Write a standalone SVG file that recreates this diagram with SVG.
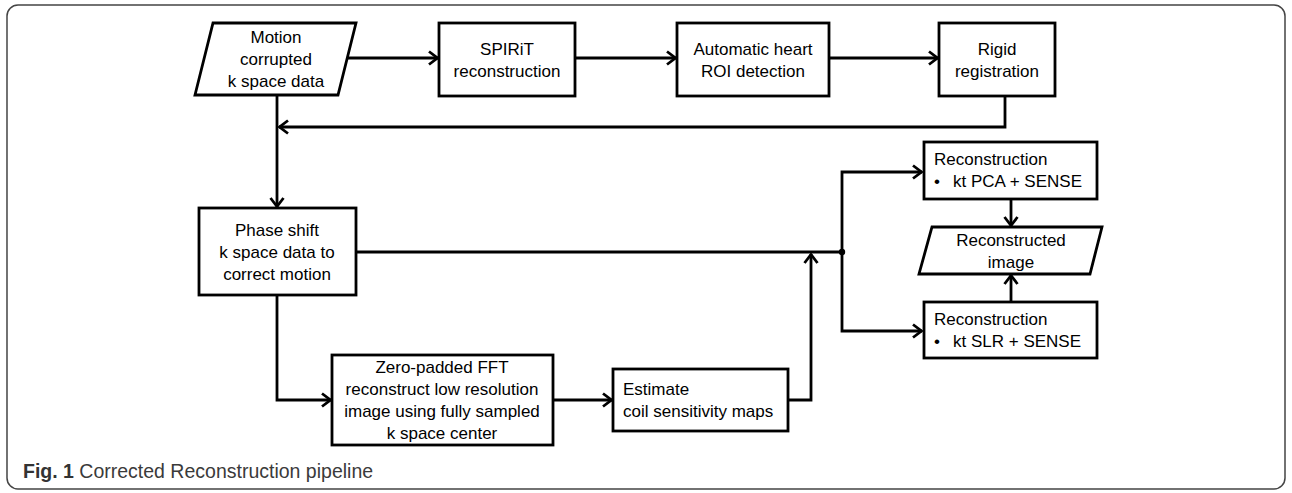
<svg xmlns="http://www.w3.org/2000/svg" width="1292" height="493" viewBox="0 0 1292 493">
<style>
.box{fill:#fff;stroke:#000;stroke-width:2.8}
.t{font-family:"Liberation Sans",Arial,sans-serif;font-size:17px;fill:#000}
.c{text-anchor:middle}
.ln{fill:none;stroke:#000;stroke-width:2.8}
.arr{marker-end:url(#ah)}
.cap{font-family:"Liberation Sans",Arial,sans-serif;font-size:19.5px;fill:#3a3a3a}
</style>
<defs>
<marker id="ah" markerUnits="userSpaceOnUse" markerWidth="14" markerHeight="16" refX="11" refY="8" orient="auto">
<path d="M2,1.5 L10.5,8 L2,14.5" fill="none" stroke="#000" stroke-width="2.8" stroke-linejoin="miter"/>
</marker>
</defs>
<rect x="7" y="5" width="1278" height="484" rx="11" fill="#fff" stroke="#444" stroke-width="1.5"/>
<g id="connectors">
<path class="ln arr" d="M347,58 L438,58"/>
<path class="ln arr" d="M575,58 L676,58"/>
<path class="ln arr" d="M829,58 L938,58"/>
<path class="ln arr" d="M1005,96 L1005,127 L279,127"/>
<path class="ln arr" d="M277,95 L277,207"/>
<path class="ln" d="M356,252 L842,252"/>
<path class="ln arr" d="M842,252 L842,172 L922,172"/>
<path class="ln arr" d="M842,252 L842,331 L922,331"/>
<circle cx="842" cy="252" r="3.2" fill="#000"/>
<path class="ln arr" d="M277,295 L277,400 L331,400"/>
<path class="ln arr" d="M553,400 L612,400"/>
<path class="ln arr" d="M788,400 L811,400 L811,254"/>
<path class="ln arr" d="M1011,199 L1011,226"/>
<path class="ln arr" d="M1011,302 L1011,275"/>
</g>
<g id="motion">
<polygon class="box" points="213,23 356,23 338,95 195,95"/>
<text class="t c" x="276" y="43">Motion</text>
<text class="t c" x="276" y="65">corrupted</text>
<text class="t c" x="276" y="87">k space data</text>
</g>
<g id="spirit">
<rect class="box" x="439" y="23" width="136" height="73"/>
<text class="t c" x="507" y="55">SPIRiT</text>
<text class="t c" x="507" y="77">reconstruction</text>
</g>
<g id="roi">
<rect class="box" x="677" y="23" width="152" height="73"/>
<text class="t c" x="753" y="55">Automatic heart</text>
<text class="t c" x="753" y="77">ROI detection</text>
</g>
<g id="rigid">
<rect class="box" x="939" y="23" width="116" height="73"/>
<text class="t c" x="997" y="55">Rigid</text>
<text class="t c" x="997" y="77">registration</text>
</g>
<g id="phase">
<rect class="box" x="199" y="208" width="157" height="87"/>
<text class="t c" x="277" y="236">Phase shift</text>
<text class="t c" x="277" y="258">k space data to</text>
<text class="t c" x="277" y="280">correct motion</text>
</g>
<g id="zeropad">
<rect class="box" x="332" y="355" width="221" height="90"/>
<text class="t c" x="442" y="373">Zero-padded FFT</text>
<text class="t c" x="442" y="395">reconstruct low resolution</text>
<text class="t c" x="442" y="417">image using fully sampled</text>
<text class="t c" x="442" y="439">k space center</text>
</g>
<g id="estimate">
<rect class="box" x="613" y="369" width="175" height="62"/>
<text class="t" x="623" y="395">Estimate</text>
<text class="t" x="623" y="417">coil sensitivity maps</text>
</g>
<g id="ktpca">
<rect class="box" x="924" y="142" width="173" height="57"/>
<text class="t" x="934" y="165">Reconstruction</text>
<text class="t" x="934" y="187">•</text>
<text class="t" x="953" y="187">kt PCA + SENSE</text>
</g>
<g id="image">
<polygon class="box" points="932,227 1102,227 1090,274 919,274"/>
<text class="t c" x="1011" y="246">Reconstructed</text>
<text class="t c" x="1011" y="268">image</text>
</g>
<g id="ktslr">
<rect class="box" x="924" y="302" width="173" height="56"/>
<text class="t" x="934" y="325">Reconstruction</text>
<text class="t" x="934" y="347">•</text>
<text class="t" x="953" y="347">kt SLR + SENSE</text>
</g>
<text class="cap" x="23" y="478"><tspan font-weight="bold" fill="#333">Fig. 1</tspan> Corrected Reconstruction pipeline</text>
</svg>
